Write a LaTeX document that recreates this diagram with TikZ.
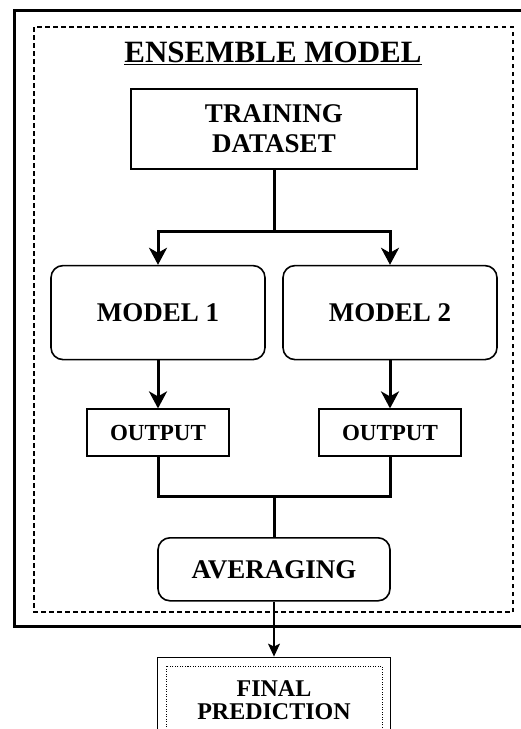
\documentclass[tikz,border=0pt]{standalone}
\usepackage{fontspec}
\setmainfont{Liberation Serif}
\usetikzlibrary{arrows.meta, positioning, calc}

\begin{document}
\begin{tikzpicture}[x=1pt, y=1pt,
      box/.style={draw, line width=1.6pt, align=center, inner sep=0pt},
      rbox/.style={box, rounded corners=12pt},
      big/.style={font=\bfseries\fontsize{27}{30}\selectfont},
      small/.style={font=\bfseries\fontsize{23}{25}\selectfont},
      lnk/.style={line width=3pt},
      arr/.style={-{Stealth[length=17pt, width=18pt, inset=5pt]}, line width=3pt},
      thinarr/.style={-{Stealth[length=13pt, width=12pt, inset=3pt]}, line width=1.3pt},
      node distance=48pt
    ]
    \useasboundingbox (0,0) rectangle (520,-729);

    % frames
    \draw[line width=3pt] (14,-10) rectangle (535,-626);
    \draw[line width=1.4pt, dash pattern=on 4.5pt off 3.5pt] (34,-27) rectangle (513,-612);
    \node[inner sep=0pt, anchor=base, font=\bfseries\fontsize{31}{34}\selectfont] (title) at (273,-62) {ENSEMBLE MODEL};
    \draw[line width=1.8pt] ([yshift=-2.5pt]title.base west) -- ([yshift=-2.5pt]title.base east);

    \node[box, big, minimum width=286pt, minimum height=80pt] (train) at (274,-129) {TRAINING\\DATASET};
    \node[rbox, big, minimum width=214pt, minimum height=94pt, below=95pt of train, xshift=-116pt] (model1) {MODEL 1};
    \node[rbox, big, minimum width=214pt, minimum height=94pt, below=95pt of train, xshift=116pt] (model2) {MODEL 2};
    \node[box, small, minimum width=142pt, minimum height=47pt, below=of model1] (out1) {OUTPUT};
    \node[box, small, minimum width=142pt, minimum height=47pt, below=of model2] (out2) {OUTPUT};
    \node[rbox, big, minimum width=232pt, minimum height=63pt, below=80pt of $(out1.south)!0.5!(out2.south)$] (avg) {AVERAGING};
    \node[box, font=\bfseries\fontsize{24}{23}\selectfont, minimum width=233pt, minimum height=86pt, below=55pt of avg] (final) {FINAL\\PREDICTION};
    \node[draw, line width=1pt, dash pattern=on 1pt off 1.5pt, inner sep=0pt, minimum width=216pt, minimum height=68pt] (finin) at (final.center) {};

    \coordinate (split) at ($(train.south)+(0,-62)$);
    \coordinate (join) at ($(avg.north)+(0,41)$);

    \draw[lnk] (train.south) -- (split);
    \draw[arr] (split) -| (model1.north);
    \draw[arr] (split) -| (model2.north);
    \draw[arr] (model1) -- (out1);
    \draw[arr] (model2) -- (out2);
    \draw[lnk] (out1.south) |- (join);
    \draw[lnk] (out2.south) |- (join);
    \draw[lnk] (join) -- (avg.north);
    \draw[thinarr] (avg) -- (final);
  \end{tikzpicture}
\end{document}
